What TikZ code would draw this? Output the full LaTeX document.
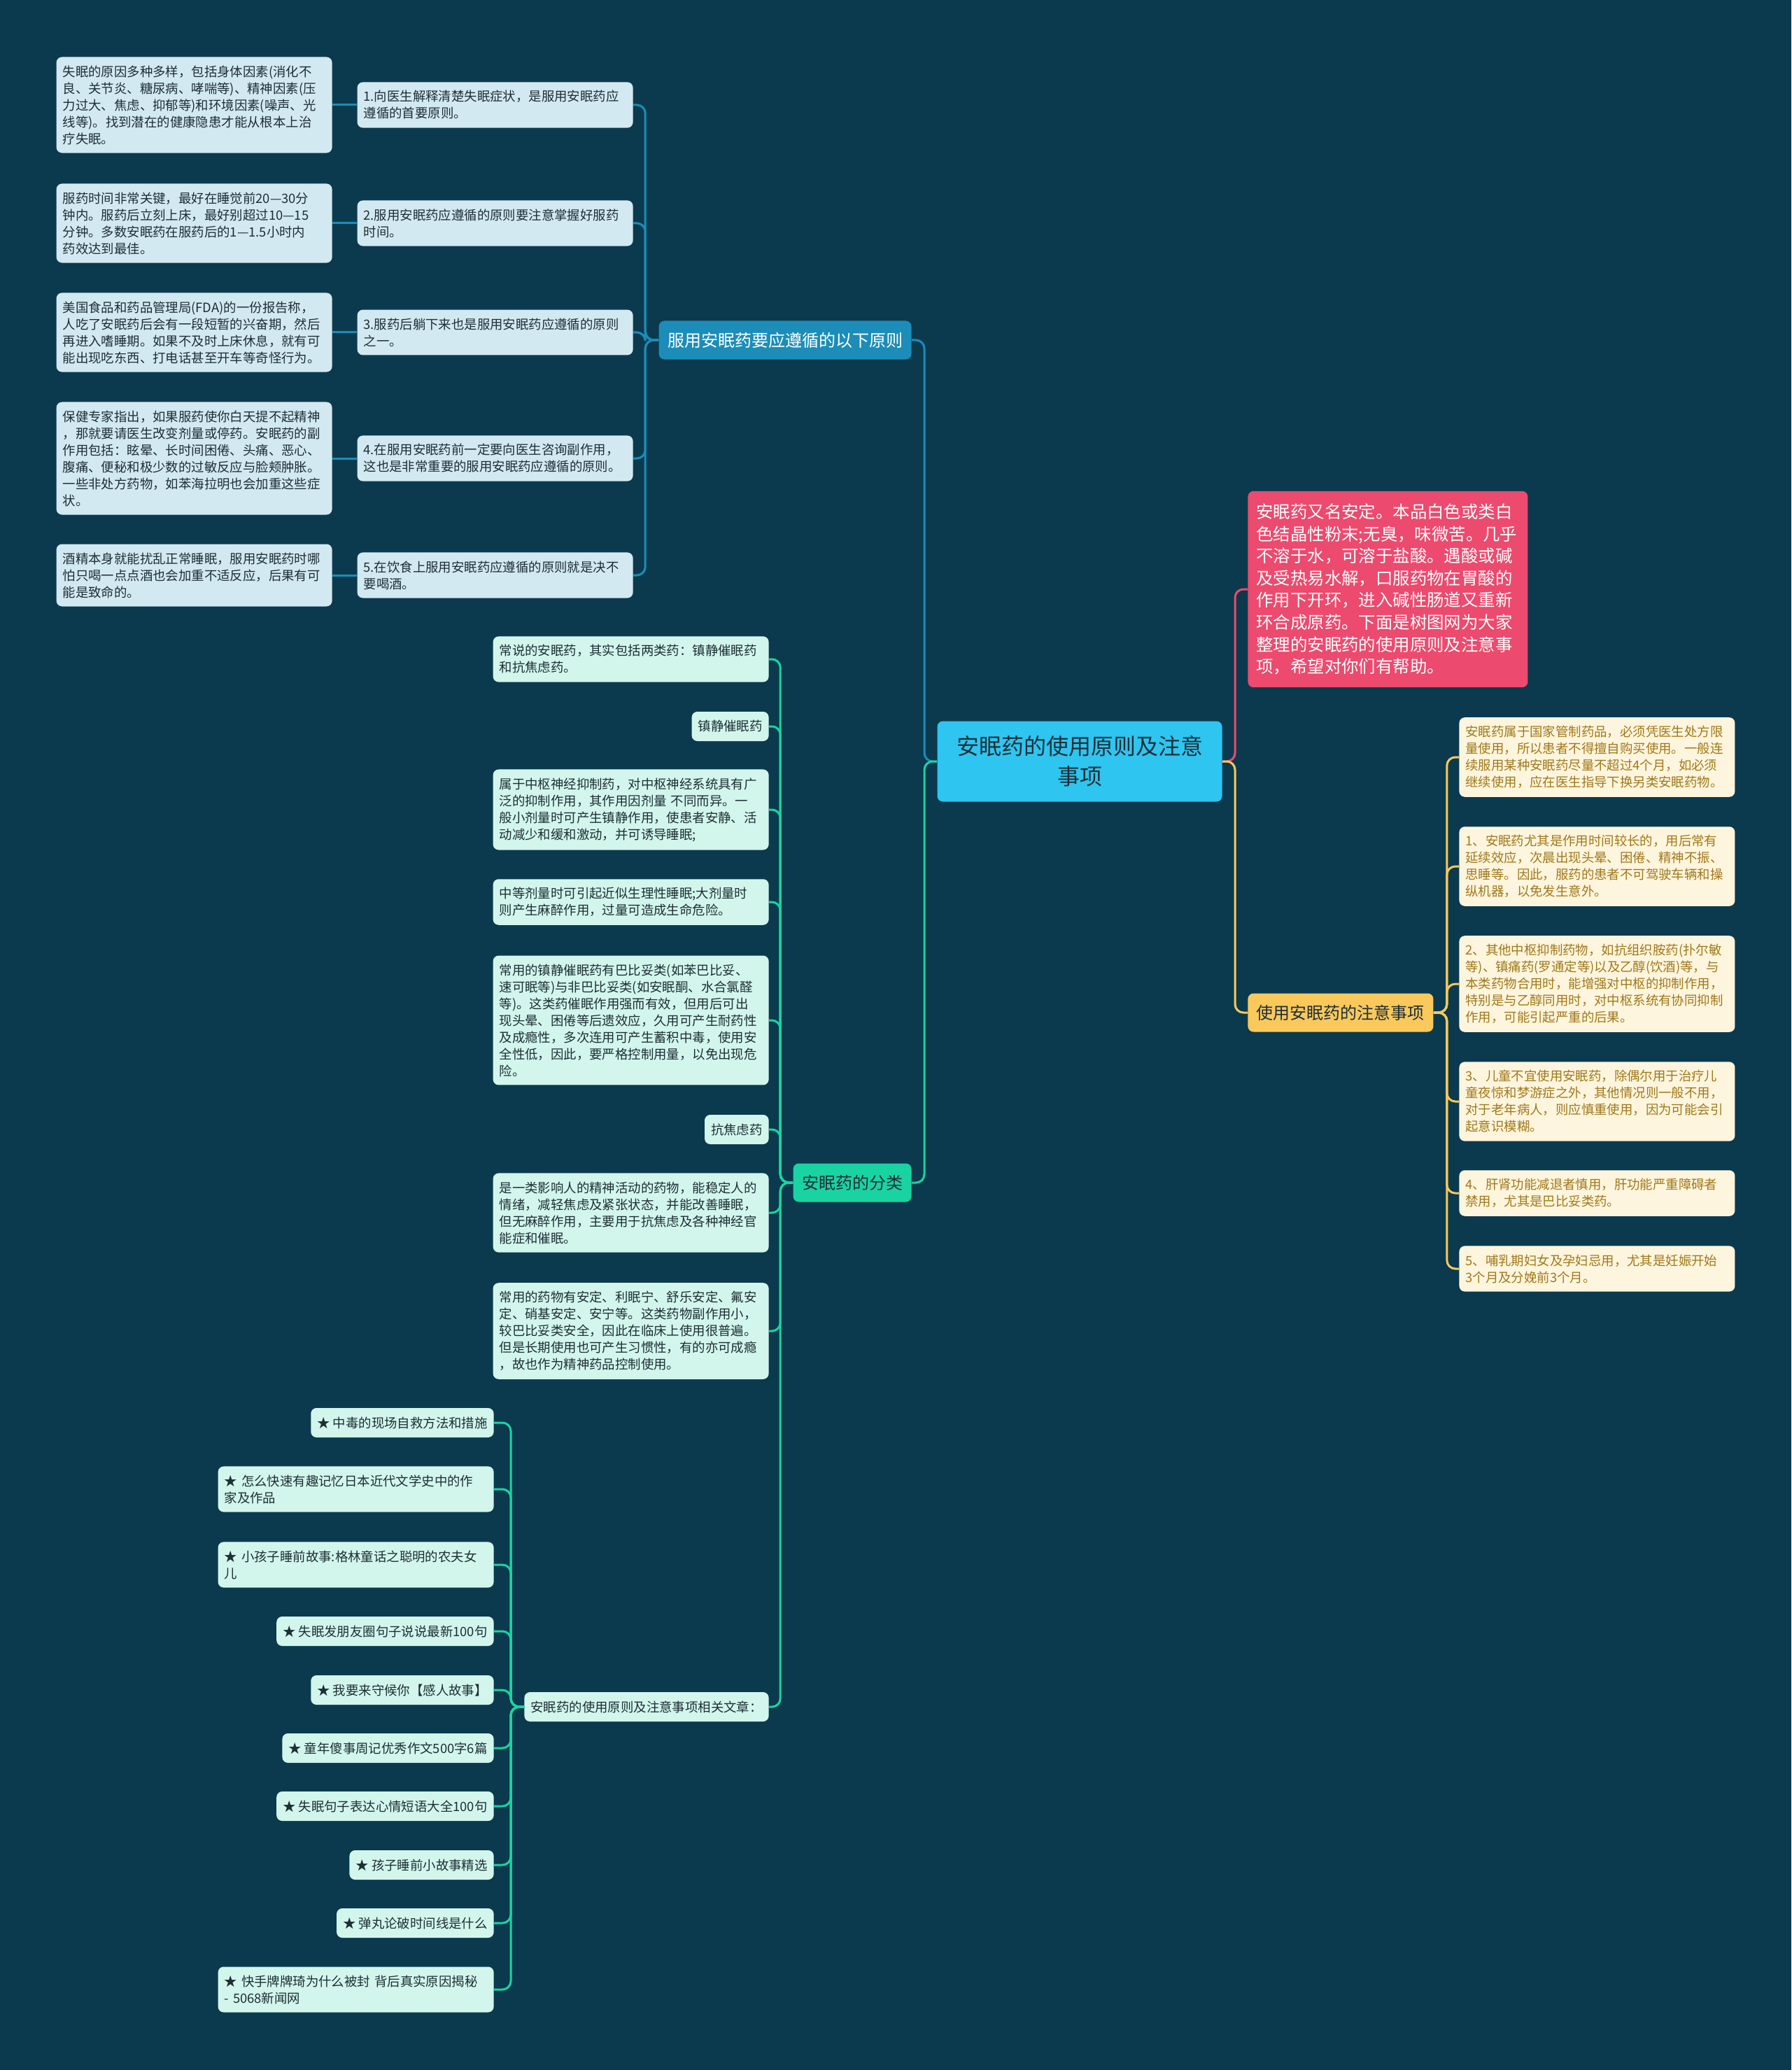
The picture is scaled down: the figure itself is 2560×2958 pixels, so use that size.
\documentclass[tikz,border=0pt]{standalone}
\usepackage{fontspec}
\setmainfont{Noto Sans CJK SC}
\usepackage{tikz}

\definecolor{bgc}{HTML}{0B3A4E}
\definecolor{bluec}{HTML}{1B8DB8}
\definecolor{bluef}{HTML}{D3E9F1}
\definecolor{greenc}{HTML}{19D4A2}
\definecolor{greenf}{HTML}{D2F6EC}
\definecolor{yelc}{HTML}{F9C95C}
\definecolor{yelf}{HTML}{FDF5DD}
\definecolor{yelt}{HTML}{A0781A}
\definecolor{redc}{HTML}{EC4A6E}
\definecolor{rootc}{HTML}{2EC5F1}
\definecolor{inkc}{HTML}{1E2E35}

\newcommand{\leaffont}{\fontsize{9.2}{12}\selectfont}
\newcommand{\branchfont}{\fontsize{12}{15}\selectfont}

\begin{document}
\begin{tikzpicture}[x=0.5pt,y=-0.5pt,
  box/.style={rounded corners=4pt,inner xsep=4.5pt,inner ysep=6pt,font=\leaffont,align=left},
  wide/.style={text width=188pt},
  bleaf/.style={box,fill=bluef,text=inkc,anchor=east},
  gleaf/.style={box,fill=greenf,text=inkc,anchor=east},
  yleaf/.style={box,wide,fill=yelf,text=yelt,anchor=west},
  branch/.style={rounded corners=4pt,inner xsep=6.25pt,minimum height=27.5pt,font=\branchfont},
  bline/.style={draw=bluec,line width=1.5pt,rounded corners=6pt},
  gline/.style={draw=greenc,line width=1.5pt,rounded corners=6pt},
  yline/.style={draw=yelc,line width=1.5pt,rounded corners=6pt},
  rline/.style={draw=redc,line width=1.5pt,rounded corners=6pt}]
\fill[bgc] (0,0) rectangle (2560,2958);
\useasboundingbox (0,0) rectangle (2560,2958);

\node[fill=rootc,text=inkc,rounded corners=4pt,minimum width=203.5pt,minimum height=57.5pt,
  align=center,font=\fontsize{16}{21.7}\selectfont] (root) at (1543,1088) {安眠药的使用原则及注意\\事项};
\coordinate (lj) at (1321,1088);
\coordinate (rj) at (1765,1088);

\node[fill=redc,text=white,rounded corners=4pt,anchor=west,inner xsep=6pt,inner ysep=9pt,text width=188pt,
  align=left,font=\fontsize{12.2}{15.8}\selectfont] (intro) at (1783,842) {安眠药又名安定。本品白色或类白\\色结晶性粉末;无臭，味微苦。几乎\\不溶于水，可溶于盐酸。遇酸或碱\\及受热易水解，口服药物在胃酸的\\作用下开环，进入碱性肠道又重新\\环合成原药。下面是树图网为大家\\整理的安眠药的使用原则及注意事\\项，希望对你们有帮助。};

\node[branch,fill=bluec,text=white,anchor=east] (prin) at (1303,486) {服用安眠药要应遵循的以下原则};
\node[branch,fill=greenc,text=inkc,anchor=east] (kind) at (1303,1690) {安眠药的分类};
\node[branch,fill=yelc,text=inkc,anchor=west] (care) at (1783,1447) {使用安眠药的注意事项};

\draw[rline] (root.east) -- (rj) |- (intro.west);
\draw[yline] (root.east) -- (rj) |- (care.west);
\draw[bline] (root.west) -- (lj) |- (prin.east);
\draw[gline] (root.west) -- (lj) |- (kind.east);

\node[bleaf,wide] (p1) at (905,150) {1.向医生解释清楚失眠症状，是服用安眠药应\\遵循的首要原则。};
\node[bleaf,wide] (p2) at (905,319) {2.服用安眠药应遵循的原则要注意掌握好服药\\时间。};
\node[bleaf,wide] (p3) at (905,475) {3.服药后躺下来也是服用安眠药应遵循的原则\\之一。};
\node[bleaf,wide] (p4) at (905,655) {4.在服用安眠药前一定要向医生咨询副作用，\\这也是非常重要的服用安眠药应遵循的原则。};
\node[bleaf,wide] (p5) at (905,822) {5.在饮食上服用安眠药应遵循的原则就是决不\\要喝酒。};

\node[bleaf,wide] (l1) at (475,150) {失眠的原因多种多样，包括身体因素(消化不\\良、关节炎、糖尿病、哮喘等)、精神因素(压\\力过大、焦虑、抑郁等)和环境因素(噪声、光\\线等)。找到潜在的健康隐患才能从根本上治\\疗失眠。};
\node[bleaf,wide] (l2) at (475,319) {服药时间非常关键，最好在睡觉前20—30分\\钟内。服药后立刻上床，最好别超过10—15\\分钟。多数安眠药在服药后的1—1.5小时内\\药效达到最佳。};
\node[bleaf,wide] (l3) at (475,475) {美国食品和药品管理局(FDA)的一份报告称，\\人吃了安眠药后会有一段短暂的兴奋期，然后\\再进入嗜睡期。如果不及时上床休息，就有可\\能出现吃东西、打电话甚至开车等奇怪行为。};
\node[bleaf,wide] (l4) at (475,655) {保健专家指出，如果服药使你白天提不起精神\\，那就要请医生改变剂量或停药。安眠药的副\\作用包括：眩晕、长时间困倦、头痛、恶心、\\腹痛、便秘和极少数的过敏反应与脸颊肿胀。\\一些非处方药物，如苯海拉明也会加重这些症\\状。};
\node[bleaf,wide] (l5) at (475,822) {酒精本身就能扰乱正常睡眠，服用安眠药时哪\\怕只喝一点点酒也会加重不适反应，后果有可\\能是致命的。};

\foreach \i in {1,...,5} {
  \draw[bline] (prin.west) -- ++(-19,0) |- (p\i.east);
  \draw[bline] (p\i.west) -- (l\i.east);
}

\node[gleaf,wide] (g1) at (1099,942) {常说的安眠药，其实包括两类药：镇静催眠药\\和抗焦虑药。};
\node[gleaf,minimum height=21pt] (g2) at (1099,1038) {镇静催眠药};
\node[gleaf,wide] (g3) at (1099,1157) {属于中枢神经抑制药，对中枢神经系统具有广\\泛的抑制作用，其作用因剂量 不同而异。一\\般小剂量时可产生镇静作用，使患者安静、活\\动减少和缓和激动，并可诱导睡眠;};
\node[gleaf,wide] (g4) at (1099,1289) {中等剂量时可引起近似生理性睡眠;大剂量时\\则产生麻醉作用，过量可造成生命危险。};
\node[gleaf,wide] (g5) at (1099,1458) {常用的镇静催眠药有巴比妥类(如苯巴比妥、\\速可眠等)与非巴比妥类(如安眠酮、水合氯醛\\等)。这类药催眠作用强而有效，但用后可出\\现头晕、困倦等后遗效应，久用可产生耐药性\\及成瘾性，多次连用可产生蓄积中毒，使用安\\全性低，因此，要严格控制用量，以免出现危\\险。};
\node[gleaf,minimum height=21pt] (g6) at (1099,1614) {抗焦虑药};
\node[gleaf,wide] (g7) at (1099,1733) {是一类影响人的精神活动的药物，能稳定人的\\情绪，减轻焦虑及紧张状态，并能改善睡眠，\\但无麻醉作用，主要用于抗焦虑及各种神经官\\能症和催眠。};
\node[gleaf,wide] (g8) at (1099,1902) {常用的药物有安定、利眠宁、舒乐安定、氟安\\定、硝基安定、安宁等。这类药物副作用小，\\较巴比妥类安全，因此在临床上使用很普遍。\\但是长期使用也可产生习惯性，有的亦可成瘾\\，故也作为精神药品控制使用。};
\node[gleaf,minimum height=21pt] (g9) at (1099,2439) {安眠药的使用原则及注意事项相关文章：};

\foreach \i in {1,...,9}
  \draw[gline] (kind.west) -- ++(-18,0) |- (g\i.east);

\node[gleaf,minimum height=21pt] (a1) at (706,2033) {★ 中毒的现场自救方法和措施};
\node[gleaf,wide] (a2) at (706,2128) {★ 怎么快速有趣记忆日本近代文学史中的作\\家及作品};
\node[gleaf,wide] (a3) at (706,2236) {★ 小孩子睡前故事:格林童话之聪明的农夫女\\儿};
\node[gleaf,minimum height=21pt] (a4) at (706,2331) {★ 失眠发朋友圈句子说说最新100句};
\node[gleaf,minimum height=21pt] (a5) at (706,2415) {★ 我要来守候你【感人故事】};
\node[gleaf,minimum height=21pt] (a6) at (706,2498) {★ 童年傻事周记优秀作文500字6篇};
\node[gleaf,minimum height=21pt] (a7) at (706,2581) {★ 失眠句子表达心情短语大全100句};
\node[gleaf,minimum height=21pt] (a8) at (706,2665) {★ 孩子睡前小故事精选};
\node[gleaf,minimum height=21pt] (a9) at (706,2748) {★ 弹丸论破时间线是什么};
\node[gleaf,wide] (a10) at (706,2843) {★ 快手牌牌琦为什么被封 背后真实原因揭秘\\- 5068新闻网};

\foreach \i in {1,...,10}
  \draw[gline] (g9.west) -- ++(-19,0) |- (a\i.east);

\node[yleaf] (y1) at (2085,1082) {安眠药属于国家管制药品，必须凭医生处方限\\量使用，所以患者不得擅自购买使用。一般连\\续服用某种安眠药尽量不超过4个月，如必须\\继续使用，应在医生指导下换另类安眠药物。};
\node[yleaf] (y2) at (2085,1238) {1、安眠药尤其是作用时间较长的，用后常有\\延续效应，次晨出现头晕、困倦、精神不振、\\思睡等。因此，服药的患者不可驾驶车辆和操\\纵机器，以免发生意外。};
\node[yleaf] (y3) at (2085,1406) {2、其他中枢抑制药物，如抗组织胺药(扑尔敏\\等)、镇痛药(罗通定等)以及乙醇(饮酒)等，与\\本类药物合用时，能增强对中枢的抑制作用，\\特别是与乙醇同用时，对中枢系统有协同抑制\\作用，可能引起严重的后果。};
\node[yleaf] (y4) at (2085,1574) {3、儿童不宜使用安眠药，除偶尔用于治疗儿\\童夜惊和梦游症之外，其他情况则一般不用，\\对于老年病人，则应慎重使用，因为可能会引\\起意识模糊。};
\node[yleaf] (y5) at (2085,1705) {4、肝肾功能减退者慎用，肝功能严重障碍者\\禁用，尤其是巴比妥类药。};
\node[yleaf] (y6) at (2085,1813) {5、哺乳期妇女及孕妇忌用，尤其是妊娠开始\\3个月及分娩前3个月。};

\foreach \i in {1,...,6}
  \draw[yline] (care.east) -- ++(19,0) |- (y\i.west);
\end{tikzpicture}
\end{document}
